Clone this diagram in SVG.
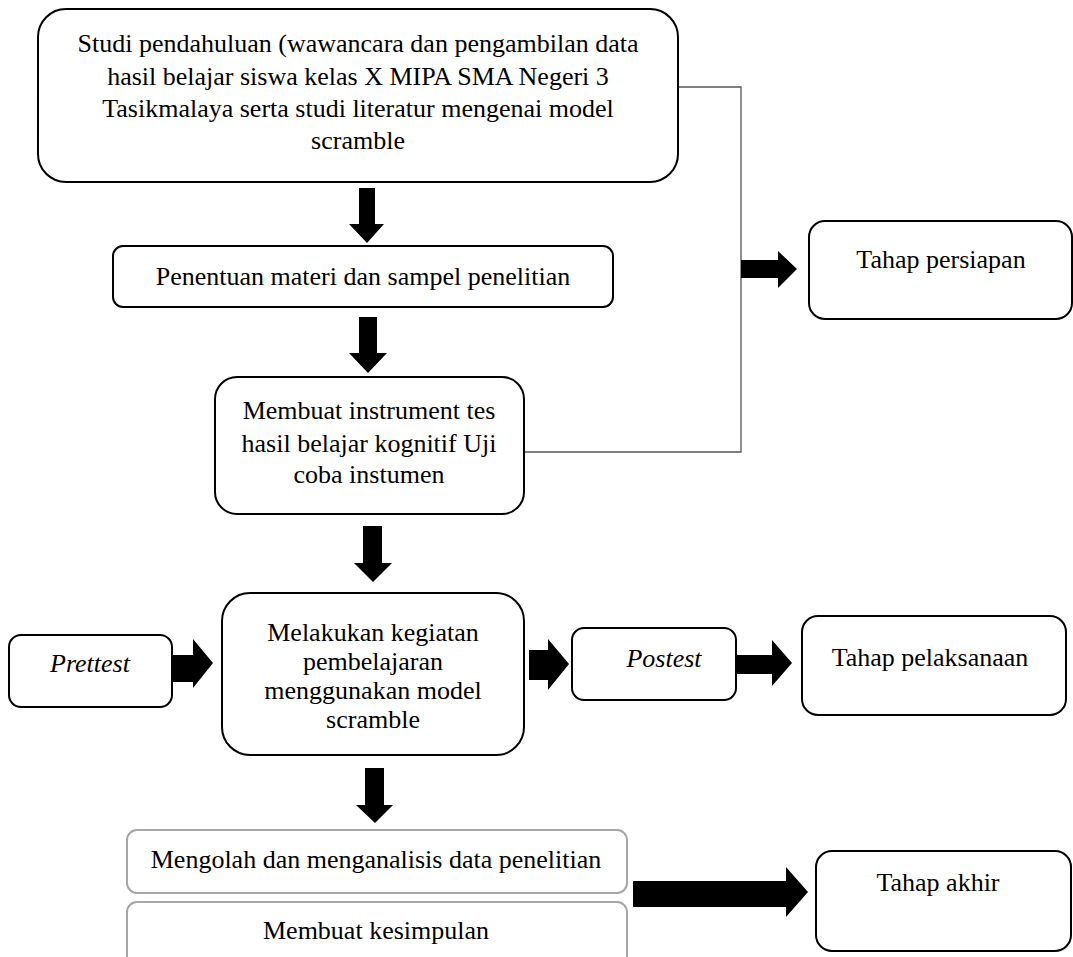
<svg xmlns="http://www.w3.org/2000/svg" width="1073" height="957" viewBox="0 0 1073 957">
<style>
.box{fill:#fff;stroke:#000;stroke-width:2}
.gbox{fill:#fff;stroke:#a6a6a6;stroke-width:2}
.t{font-family:"Liberation Serif","Times New Roman",serif;font-size:26px;fill:#000;text-anchor:middle}
.i{font-style:italic}
.arr{fill:#000}
.br{fill:none;stroke:#555;stroke-width:1.3}
</style>
<rect width="1073" height="957" fill="#fff"/>
<g id="connectors">
<path class="br" d="M678,87 H741 V452 H525"/>
<polygon class="arr" points="359,188 375,188 375,224 384,224 367,243 349,224 359,224"/>
<polygon class="arr" points="359,317 377,317 377,353 387,353 368,373 349,353 359,353"/>
<polygon class="arr" points="363,526 382,526 382,563 392,563 373,582 354,563 363,563"/>
<polygon class="arr" points="365,768 384,768 384,805 393,805 375,823 356,805 365,805"/>
<polygon class="arr" points="741,260 778,260 778,251 797,269 778,288 778,278 741,278"/>
<polygon class="arr" points="171,655 193,655 193,639 213,663 193,688 193,682 171,682"/>
<polygon class="arr" points="529,650 548,650 548,639 569,664 548,690 548,680 529,680"/>
<polygon class="arr" points="736,655 772,655 772,640 792,663 772,686 772,674 736,674"/>
<polygon class="arr" points="633,881 786,881 786,867 808,892 786,917 786,907 633,907"/>
</g>
<g id="n1">
<rect class="box" x="38" y="9" width="640" height="173" rx="28"/>
<text class="t" x="358" y="52">Studi pendahuluan (wawancara dan pengambilan data</text>
<text class="t" x="358" y="85">hasil belajar siswa kelas X MIPA SMA Negeri 3</text>
<text class="t" x="358" y="117">Tasikmalaya serta studi literatur mengenai model</text>
<text class="t" x="358" y="149">scramble</text>
</g>
<g id="n2">
<rect class="box" x="113" y="246" width="500" height="61" rx="10"/>
<text class="t" x="363" y="285">Penentuan materi dan sampel penelitian</text>
</g>
<g id="n3">
<rect class="box" x="215" y="377" width="309" height="137" rx="22"/>
<text class="t" x="369" y="419">Membuat instrument tes</text>
<text class="t" x="369" y="452">hasil belajar kognitif Uji</text>
<text class="t" x="369" y="483">coba instumen</text>
</g>
<g id="n4">
<rect class="box" x="809" y="221" width="263" height="98" rx="16"/>
<text class="t" x="941" y="268">Tahap persiapan</text>
</g>
<g id="n5">
<rect class="box" x="9" y="635" width="163" height="72" rx="12"/>
<text class="t i" x="90" y="672">Prettest</text>
</g>
<g id="n6">
<rect class="box" x="222" y="593" width="302" height="162" rx="28"/>
<text class="t" x="373" y="641">Melakukan kegiatan</text>
<text class="t" x="373" y="670">pembelajaran</text>
<text class="t" x="373" y="699">menggunakan model</text>
<text class="t" x="373" y="728">scramble</text>
</g>
<g id="n7">
<rect class="box" x="572" y="628" width="164" height="72" rx="12"/>
<text class="t i" x="664" y="667">Postest</text>
</g>
<g id="n8">
<rect class="box" x="802" y="616" width="264" height="99" rx="16"/>
<text class="t" x="930" y="666">Tahap pelaksanaan</text>
</g>
<g id="n9">
<rect class="gbox" x="127" y="830" width="500" height="63" rx="10"/>
<text class="t" x="376" y="868">Mengolah dan menganalisis data penelitian</text>
</g>
<g id="n10">
<rect class="gbox" x="127" y="902" width="500" height="80" rx="10"/>
<text class="t" x="376" y="939">Membuat kesimpulan</text>
</g>
<g id="n11">
<rect class="box" x="816" y="851" width="255" height="100" rx="16"/>
<text class="t" x="938" y="891">Tahap akhir</text>
</g>
</svg>
